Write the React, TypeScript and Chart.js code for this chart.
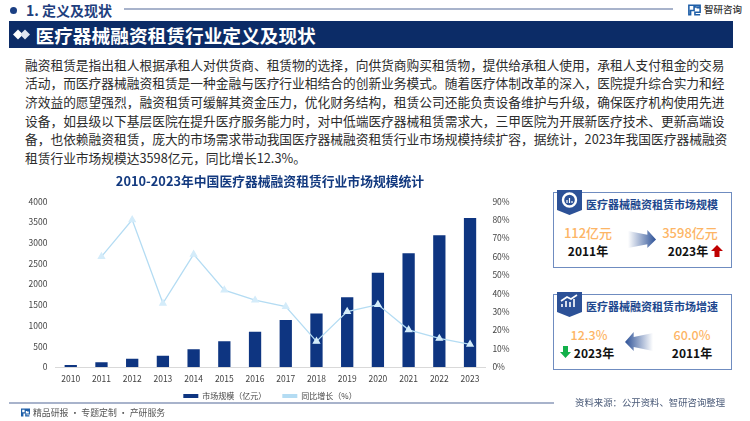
import React, { useEffect, useRef } from "react";
import { Chart, registerables } from "chart.js";

Chart.register(...registerables);

const categories = ["2010","2011","2012","2013","2014","2015","2016","2017","2018","2019","2020","2021","2022","2023"];
const marketSize = [50,112,200,270,430,620,850,1138,1290,1685,2275,2745,3182,3598];
const growth = [null,60,80,34.6,61.2,41.8,36.3,32.8,13.9,30.1,33.9,20.2,15.5,12.3];
const paragraph = [
  "融资租赁是指出租人根据承租人对供货商、租赁物的选择，向供货商购买租赁物，提供给承租人使用，承租人支付租金的交易",
  "活动，而医疗器械融资租赁是一种金融与医疗行业相结合的创新业务模式。随着医疗体制改革的深入，医院提升综合实力和经",
  "济效益的愿望强烈，融资租赁可缓解其资金压力，优化财务结构，租赁公司还能负责设备维护与升级，确保医疗机构使用先进",
  "设备，如县级以下基层医院在提升医疗服务能力时，对中低端医疗器械租赁需求大，三甲医院为开展新医疗技术、更新高端设",
  "备，也依赖融资租赁，庞大的市场需求带动我国医疗器械融资租赁行业市场规模持续扩容，据统计，2023年我国医疗器械融资",
  "租赁行业市场规模达3598亿元，同比增长12.3%。",
];

const F = '"Noto Sans CJK SC", "Noto Sans", sans-serif';
const NAVY = "#0c2c67";
const abs = (o: React.CSSProperties): React.CSSProperties => ({ position: "absolute", whiteSpace: "nowrap", ...o });

// the x axis box is kept short so the legend sits close; widen its label clip before drawing
const tickClipFix = {
  id: "tickClipFix",
  beforeDraw: (c: any) => { c.scales.x.bottom = c.scales.x.top + 22; },
};

function Panel({ top, height, title, icon }: { top: number; height: number; title: string; icon: React.ReactNode }) {
  return (
    <>
      <div style={abs({ left: 553, top, width: 179, height, border: "1px solid #6f8cc0", boxSizing: "border-box" })} />
      <svg style={abs({ left: 557, top: top - 2, width: 25, height: 26 })} viewBox="0 0 25 26">
        <path d="M0 0H25V20L12.5 25L0 20Z" fill="#2c5197" />
        {icon}
      </svg>
      <div style={abs({ left: 586, top: top + 4, fontSize: 11, fontWeight: 700, color: "#20478e", lineHeight: "16px" })}>{title}</div>
    </>
  );
}

function Big({ x, y, text, color, size = 13, bold }: { x: number; y: number; text: string; color: string; size?: number; bold?: boolean }) {
  return <div style={abs({ left: x, top: y, width: 80, marginLeft: -40, textAlign: "center", fontSize: size, fontWeight: bold ? 700 : 500, color, lineHeight: "16px" })}>{text}</div>;
}

export default function App() {
  const ref = useRef<HTMLCanvasElement>(null);
  useEffect(() => {
    const chart = new Chart(ref.current!, {
      plugins: [tickClipFix],
      data: {
        labels: categories,
        datasets: [
          { type: "line", label: "同比增长（%）", data: growth, yAxisID: "y1", order: 1, borderColor: "#b4dcf3", backgroundColor: "#d4ecfa", borderWidth: 1.3, pointStyle: "triangle", pointRadius: 3.5, pointBorderColor: "#d4ecfa", pointBackgroundColor: "#d4ecfa", tension: 0, spanGaps: false },
          { type: "bar", label: "市场规模（亿元）", data: marketSize, yAxisID: "y", order: 2, backgroundColor: "#0e3581", barPercentage: 0.8, categoryPercentage: 0.5 },
        ],
      } as any,
      options: {
        responsive: false,
        animation: false,
        layout: { padding: 0 },
        plugins: {
          title: { display: true, text: "2010-2023年中国医疗器械融资租赁行业市场规模统计", color: "#12397f", font: { family: F, size: 12.8, weight: "bold" }, padding: { top: 3, bottom: 13 } },
          legend: {
            position: "bottom",
            labels: {
              color: "#444", font: { family: F, size: 8 }, boxWidth: 15, boxHeight: 4, padding: 16,
              generateLabels: (c: Chart) => {
                const b = c.data.datasets[1] as any, l = c.data.datasets[0] as any;
                return [
                  { text: b.label, fillStyle: "#0e3581", strokeStyle: "#0e3581", lineWidth: 0, datasetIndex: 1, fontColor: "#444" },
                  { text: l.label, fillStyle: "#b4dcf3", strokeStyle: "#b4dcf3", lineWidth: 0, datasetIndex: 0, fontColor: "#444" },
                ] as any;
              },
            },
          },
          tooltip: { enabled: false },
        },
        scales: {
          x: { grid: { display: false, drawTicks: false }, border: { color: "#d9d9d9" }, ticks: { color: "#444", font: { family: F, size: 8.5 }, padding: 7, maxRotation: 0 }, afterFit: (s: any) => { s.height = 9; } },
          y: { min: 0, max: 4000, ticks: { stepSize: 500, color: "#444", font: { family: F, size: 8.5 }, padding: 8, callback: (v: any) => String(v) }, grid: { display: false, drawTicks: false }, border: { display: false }, afterFit: (s: any) => { s.width = 55.4; } },
          y1: { position: "right", min: 0, max: 90, ticks: { stepSize: 10, color: "#444", font: { family: F, size: 8.5 }, padding: 7, callback: (v: any) => v + "%" }, grid: { display: false, drawTicks: false }, border: { display: false }, afterFit: (s: any) => { s.width = 54.6; } },
        },
      } as any,
    });
    return () => chart.destroy();
  }, []);

  return (
    <div style={{ position: "absolute", left: 0, top: 0, width: 750, height: 421, overflow: "hidden", background: "#fff", fontFamily: F }}>
      {/* header */}
      <div style={abs({ left: 9.5, top: 7, width: 7, height: 7, borderRadius: "50%", background: "#1b3f83" })} />
      <div style={abs({ left: 26, top: 1, fontSize: 14, fontWeight: 700, color: "#1f3f7e", lineHeight: "18px" })}>1. 定义及现状</div>
      <div style={abs({ left: 124, top: 8, width: 549, height: 2, background: "#a8b3cb" })} />
      <svg style={abs({ left: 688, top: 3, width: 13, height: 14 })} viewBox="0 0 15 15">
        <path d="M1 2H7V8H3V13H1ZM8 2H14V4H8ZM10 5H14V10H8V13H14" fill="none" stroke="#1f5fa8" strokeWidth="1.8" />
      </svg>
      <div style={abs({ left: 704, top: 2, fontSize: 9.5, fontWeight: 500, color: "#333", lineHeight: "14px" })}>智研咨询</div>
      <div style={abs({ left: 9, top: 21, width: 723.5, height: 26.5, background: NAVY })} />
      <svg style={abs({ left: 13, top: 29, width: 17, height: 11 })} viewBox="0 0 17 11">
        <path d="M0 5.5L5 0.5L10 5.5L5 10.5Z" fill="#fff" /><path d="M7 5.5L12 0.5L17 5.5L12 10.5Z" fill="#dfe5f2" />
      </svg>
      <div style={abs({ left: 35.5, top: 21, fontSize: 18.7, fontWeight: 700, color: "#fff", lineHeight: "27px" })}>医疗器械融资租赁行业定义及现状</div>
      {/* paragraph */}
      {paragraph.map((t, i) => (
        <div key={i} style={abs({ left: 25, top: 54.5 + i * 18.7, fontSize: 12.72, color: "#2c2c2c", lineHeight: "19px" })}>{t}</div>
      ))}
      {/* chart */}
      <canvas ref={ref} width={540} height={240} style={{ position: "absolute", left: 0, top: 170, width: 540, height: 240 }} />
      {/* panel 1 */}
      <Panel top={192} height={76} title="医疗器械融资租赁市场规模" icon={<><circle cx="12.5" cy="10" r="6.5" fill="none" stroke="#fff" strokeWidth="2.4" /><path d="M10 13V10M12.5 13V8M15 13V11" stroke="#fff" strokeWidth="1.2" /></>} />
      <Big x={588} y={225} text="112亿元" color="#fdb565" />
      <Big x={588} y={243} text="2011年" color="#111" size={12} bold />
      <Big x={690} y={225} text="3598亿元" color="#fdb565" />
      <Big x={688} y={243} text="2023年" color="#111" size={12} bold />
      <svg style={abs({ left: 628, top: 230, width: 29, height: 19 })} viewBox="0 0 30 20" preserveAspectRatio="none">
        <defs><linearGradient id="ar" x1="0" x2="1"><stop offset="0" stopColor="#2c5197" stopOpacity="0" /><stop offset="1" stopColor="#2c5197" /></linearGradient></defs>
        <path d="M0 1L20 5V0L29 10L20 19V15L0 19Z" fill="url(#ar)" />
      </svg>
      <svg style={abs({ left: 711, top: 245, width: 12, height: 12 })} viewBox="0 0 12 12"><path d="M6 0L12 6H8.5V12H3.5V6H0Z" fill="#c00000" /></svg>
      {/* panel 2 */}
      <Panel top={294} height={76} title="医疗器械融资租赁市场增速" icon={<path d="M5 15V12M9 15V9M13 15V10M17 15V7M4 9L10 5L14 7L20 3" fill="none" stroke="#fff" strokeWidth="1.6" />} />
      <Big x={589} y={327} text="12.3%" color="#fdb565" size={12.5} />
      <Big x={594} y={345} text="2023年" color="#111" size={12} bold />
      <Big x={692} y={327} text="60.0%" color="#fdb565" size={12.5} />
      <Big x={692} y={345} text="2011年" color="#111" size={12} bold />
      <svg style={abs({ left: 625, top: 332, width: 28, height: 20 })} viewBox="0 0 29 20" preserveAspectRatio="none">
        <defs><linearGradient id="al" x1="1" x2="0"><stop offset="0" stopColor="#2c5197" stopOpacity="0" /><stop offset="1" stopColor="#2c5197" /></linearGradient></defs>
        <path d="M29 1L9 5V0L0 10L9 19V15L29 19Z" fill="url(#al)" />
      </svg>
      <svg style={abs({ left: 560, top: 346, width: 11, height: 12 })} viewBox="0 0 11 12"><path d="M5.5 12L11 6H8V0H3V6H0Z" fill="#12b04a" /></svg>
      {/* footer */}
      <div style={abs({ left: 9, top: 402, width: 545, height: 2, background: "#a8b3cb" })} />
      <svg style={abs({ left: 21, top: 408, width: 9, height: 9 })} viewBox="0 0 15 15">
        <path d="M1 2H7V8H3V13H1ZM8 2H14V4H8ZM10 5H14V10H8V13H14" fill="none" stroke="#1f5fa8" strokeWidth="2" />
      </svg>
      <div style={abs({ left: 33, top: 406, fontSize: 8.9, color: "#555", lineHeight: "14px" })}>精品研报 · 专题定制 · 产研服务</div>
      <div style={abs({ left: 575, top: 395, fontSize: 9.4, color: "#4a5a78", lineHeight: "14px" })}>资料来源：公开资料、智研咨询整理</div>
    </div>
  );
}
